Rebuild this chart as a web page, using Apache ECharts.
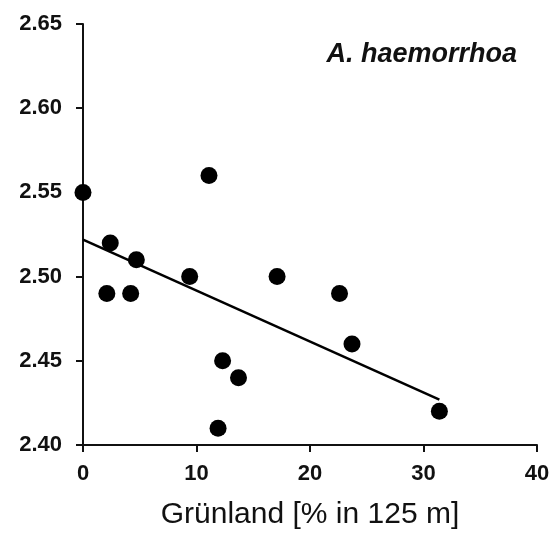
<!DOCTYPE html>
<html>
<head>
<meta charset="utf-8">
<script src="https://cdn.jsdelivr.net/npm/echarts@6/dist/echarts.min.js"></script>
<style>
  html, body { margin: 0; padding: 0; background: #fff; }
  #chart { width: 558px; height: 541px; }
</style>
</head>
<body>
<div id="chart"></div>
<script>
// Grassland share within 125 m (%) per site
const grunland = [0, 2.4, 2.1, 4.2, 4.7, 9.4, 11.1, 12.3, 13.7, 11.9, 17.1, 22.6, 23.7, 31.4];
// Measured trait value per site
const werte = [2.55, 2.52, 2.49, 2.49, 2.51, 2.50, 2.56, 2.45, 2.44, 2.41, 2.50, 2.49, 2.46, 2.42];
// Fitted trend line, evaluated at the ends of the data range
const trendX = [0, 31.4];
const trendY = [2.522, 2.427];

const xTicks = [0, 10, 20, 30, 40];
const yTicks = [2.40, 2.45, 2.50, 2.55, 2.60, 2.65];

const species = 'A. haemorrhoa';
const xTitle = 'Grünland [% in 125 m]';

const font = 'Liberation Sans, Arial, sans-serif';

const chart = echarts.init(document.getElementById('chart'), null, { renderer: 'canvas' });

chart.setOption({
  animation: false,
  backgroundColor: '#ffffff',
  title: {
    text: species,
    right: 36,
    top: 36,
    textStyle: { fontFamily: font, fontSize: 27, fontWeight: 'bold', fontStyle: 'italic', color: '#111' }
  },
  grid: { left: 83, right: 21, top: 24, bottom: 96, containLabel: false },
  xAxis: {
    type: 'value',
    min: xTicks[0],
    max: xTicks[xTicks.length - 1],
    interval: xTicks[1] - xTicks[0],
    name: xTitle,
    nameLocation: 'middle',
    nameGap: 55,
    nameTextStyle: { fontFamily: font, fontSize: 30, color: '#111' },
    axisLine: { show: true, onZero: false, lineStyle: { color: '#111', width: 2 } },
    axisTick: { show: true, inside: false, length: 7, lineStyle: { color: '#111', width: 2 } },
    axisLabel: { margin: 18, fontFamily: font, fontSize: 22, fontWeight: 'bold', color: '#111' },
    splitLine: { show: false }
  },
  yAxis: {
    type: 'value',
    min: yTicks[0],
    max: yTicks[yTicks.length - 1],
    interval: 0.05,
    axisLine: { show: true, onZero: false, lineStyle: { color: '#111', width: 2 } },
    axisTick: { show: true, inside: false, length: 7, lineStyle: { color: '#111', width: 2 } },
    axisLabel: {
      margin: 21,
      fontFamily: font, fontSize: 22, fontWeight: 'bold', color: '#111',
      formatter: v => v.toFixed(2)
    },
    splitLine: { show: false }
  },
  series: [
    {
      type: 'line',
      data: trendX.map((x, i) => [x, trendY[i]]),
      symbol: 'none',
      lineStyle: { color: '#000', width: 2.5 },
      z: 2
    },
    {
      type: 'scatter',
      data: grunland.map((x, i) => [x, werte[i]]),
      symbol: 'circle',
      symbolSize: 17,
      itemStyle: { color: '#000', opacity: 1 },
      z: 3
    }
  ]
});
</script>
</body>
</html>
